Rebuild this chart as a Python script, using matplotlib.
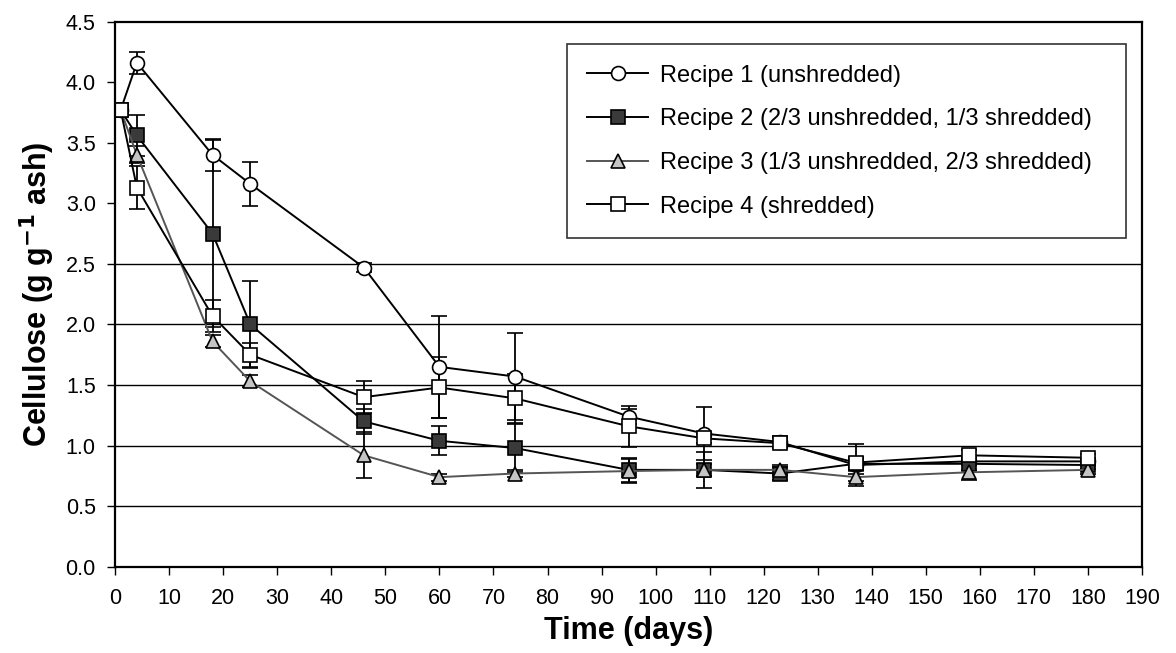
import numpy as np
import matplotlib.pyplot as plt
from matplotlib.lines import Line2D

plt.rcParams['font.family'] = ['Liberation Sans', 'DejaVu Sans']

# sampling days
days = [1, 4, 18, 25, 46, 60, 74, 95, 109, 123, 137, 158, 180]

# cellulose (g g-1 ash) and error bars
r1 = [3.77, 4.16, 3.40, 3.16, 2.47, 1.65, 1.57, 1.24, 1.10, 1.03, 0.84, 0.87, 0.87]
r1_err = [0.02, 0.09, 0.13, 0.18, 0.04, 0.42, 0.36, 0.06, 0.22, 0.05, 0.17, 0.03, 0.03]
r2 = [3.77, 3.56, 2.75, 2.00, 1.20, 1.04, 0.98, 0.80, 0.80, 0.77, 0.85, 0.85, 0.84]
r2_err = [0.02, 0.17, 0.77, 0.36, 0.10, 0.12, 0.20, 0.10, 0.05, 0.05, 0.05, 0.05, 0.03]
r3 = [3.77, 3.40, 1.86, 1.53, 0.92, 0.74, 0.77, 0.79, 0.80, 0.80, 0.74, 0.78, 0.80]
r3_err = [0.02, 0.07, 0.05, 0.05, 0.19, 0.03, 0.03, 0.10, 0.15, 0.04, 0.03, 0.06, 0.03]
r4 = [3.77, 3.13, 2.07, 1.75, 1.40, 1.48, 1.39, 1.16, 1.06, 1.02, 0.86, 0.92, 0.90]
r4_err = [0.02, 0.18, 0.13, 0.10, 0.13, 0.25, 0.20, 0.17, 0.04, 0.04, 0.03, 0.04, 0.03]

labels = ["Recipe 1 (unshredded)",
          "Recipe 2 (2/3 unshredded, 1/3 shredded)",
          "Recipe 3 (1/3 unshredded, 2/3 shredded)",
          "Recipe 4 (shredded)"]

fig = plt.figure(figsize=(11.76, 6.53), dpi=100)
ax = fig.add_axes([0.098, 0.132, 0.873, 0.835])

# horizontal gridlines (only the lower ones survive in the scan)
for g in [0.5, 1.0, 1.5, 2.0, 2.5]:
    ax.axhline(g, color='black', lw=1.0, zorder=0)

styles = [
    (r1, r1_err, 'o', 'white', 'black'),
    (r2, r2_err, 's', '#3a3a3a', 'black'),
    (r3, r3_err, '^', '#c4c4c4', '#555555'),
    (r4, r4_err, 's', 'white', 'black'),
]
handles = []
for (y, e, m, fc, lc), lab in zip(styles, labels):
    ax.errorbar(days, y, yerr=e, color=lc, ecolor='black', elinewidth=1.3,
                capsize=6, capthick=1.3, lw=1.4, marker=m, markersize=10,
                markerfacecolor=fc, markeredgecolor='black', markeredgewidth=1.2)
    handles.append(Line2D([], [], color=lc, lw=1.4, marker=m, markersize=10,
                          markerfacecolor=fc, markeredgecolor='black',
                          markeredgewidth=1.2, label=lab))

ax.set_xlim(0, 190)
ax.set_ylim(0, 4.5)
ax.set_xticks(np.arange(0, 191, 10))
ax.set_yticks(np.arange(0, 4.51, 0.5))
ax.set_yticklabels([f"{v:.1f}" for v in np.arange(0, 4.51, 0.5)])
ax.tick_params(direction='out', length=6, width=1, labelsize=15.5)
ax.tick_params(axis='x', pad=9)
ax.tick_params(axis='y', pad=8)
for s in ax.spines.values():
    s.set_linewidth(1.6)

ax.set_xlabel("Time (days)", fontsize=22, fontweight='bold', labelpad=5)
ax.set_ylabel("Cellulose (g g$^{\\mathbf{-1}}$ ash)", fontsize=22, fontweight='bold',
              labelpad=6)

# legend box stretched to the frame seen in the scan
leg = ax.legend(handles=handles, loc='upper left', mode='expand',
                bbox_to_anchor=(0.44, 0.60, 0.545, 0.358),
                fontsize=17, frameon=True, fancybox=False, edgecolor='black',
                handlelength=2.6, handletextpad=0.5, labelspacing=0.92,
                borderpad=0.85, borderaxespad=0)
leg.get_frame().set_linewidth(1.2)

fig.savefig("out.png", dpi=100)
